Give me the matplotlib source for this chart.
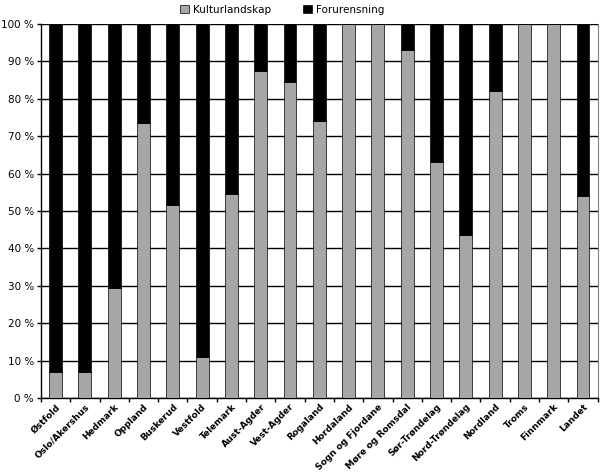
import numpy as np
import matplotlib.pyplot as plt

# data
fylker = ['Østfold', 'Oslo/Akershus', 'Hedmark', 'Oppland', 'Buskerud', 'Vestfold',
          'Telemark', 'Aust-Agder', 'Vest-Agder', 'Rogaland', 'Hordaland',
          'Sogn og Fjordane', 'Møre og Romsdal', 'Sør-Trøndelag', 'Nord-Trøndelag',
          'Nordland', 'Troms', 'Finnmark', 'Landet']
kultur = [7, 7, 29.5, 73.5, 51.5, 11, 54.5, 87.5, 84.5, 74, 100, 100, 93, 63, 43.5,
          82, 100, 100, 54]
forurens = [100 - k for k in kultur]

fig = plt.figure(figsize=(6, 4.74), dpi=100)
ax = fig.add_axes([0.0683, 0.1603, 0.9277, 0.7891])

x = np.arange(len(fylker))
w = 0.44
ax.bar(x, kultur, w, color='#a6a6a6', edgecolor='black', linewidth=0.5,
       label='Kulturlandskap', zorder=3)
ax.bar(x, forurens, w, bottom=kultur, color='black', edgecolor='black',
       linewidth=0.5, label='Forurensning', zorder=3)

ax.set_xlim(-0.5, len(fylker) - 0.5)
ax.set_ylim(0, 100)
ax.set_yticks(range(0, 101, 10))
ax.set_yticklabels([f'{v} %' for v in range(0, 101, 10)], fontsize=7.5)
ax.yaxis.grid(True, color='black', linewidth=1, zorder=0)
ax.set_axisbelow(True)

# ticks between categories, labels at the bar
ax.set_xticks(np.arange(-0.5, len(fylker), 1))
ax.set_xticklabels([])
ax.set_xticks(x, minor=True)
ax.set_xticklabels(fylker, minor=True, rotation=45, ha='right', va='top',
                   fontsize=6.5, fontweight='bold', rotation_mode='anchor')
ax.tick_params(axis='x', which='minor', length=0, pad=3)
ax.tick_params(axis='x', which='major', length=3, direction='out', width=1)
ax.tick_params(axis='y', length=3, direction='out', width=1, pad=2)

ax.spines['top'].set_visible(False)
ax.spines['right'].set_color('#808080')
ax.spines['left'].set_linewidth(1)
ax.spines['bottom'].set_linewidth(1)

fig.legend(loc='upper center', bbox_to_anchor=(0.47, 1.01), ncol=2, frameon=False,
           fontsize=7.5, handlelength=0.9, handleheight=0.9, columnspacing=3,
           handletextpad=0.4)

fig.savefig('out.png', dpi=100)
